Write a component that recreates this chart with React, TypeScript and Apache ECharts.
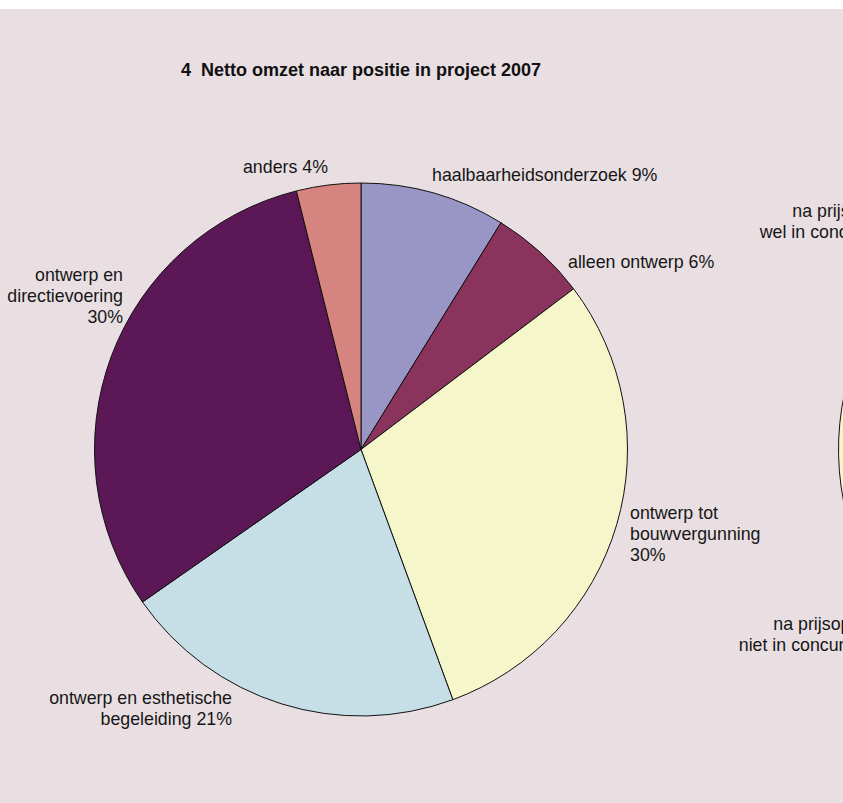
import React, { useEffect, useRef } from 'react';
import * as echarts from 'echarts';

const chartTitle = '4  Netto omzet naar positie in project 2007';

// Main pie: position in project (shares, printed percentages as shown)
const categories = [
  'haalbaarheidsonderzoek',
  'alleen ontwerp',
  'ontwerp tot\nbouwvergunning',
  'ontwerp en esthetische\nbegeleiding',
  'ontwerp en\ndirectievoering',
  'anders',
];
const shares = [8.8, 5.9, 29.7, 20.9, 30.8, 3.9];
const printedPercent = [9, 6, 30, 21, 30, 4];
const percentSeparator = [' ', ' ', '\n', ' ', '\n', ' '];

// Second (cut-off) pie at the right edge
const secondCategories = [
  'direct opdracht',
  'na prijsopgave\nniet in concurrentie',
  'na prijsopgave\nwel in concurrentie',
];
const secondShares = [55, 30, 15];

const sliceColors = ['#9995c4', '#8a335d', '#f6f6cb', '#c6dee5', '#5c1757', '#d6847f'];
const secondColors = ['#9995c4', '#f6f6cb', '#8a335d'];

const labelAnchors: [number, number, string][] = [
  [432, 166, 'left'],
  [568, 253, 'left'],
  [630, 525, 'left'],
  [232, 699, 'right'],
  [123, 287, 'right'],
  [328, 158, 'right'],
];
const secondAnchors: [number, number, string][] = [
  [1300, 100, 'left'],
  [889, 625, 'right'],
  [908, 212.5, 'right'],
];

const FONT = '"Liberation Sans", Arial, Helvetica, sans-serif';

export default function App() {
  const ref = useRef<HTMLDivElement>(null);

  useEffect(() => {
    if (!ref.current) return;
    const chart = echarts.init(ref.current, undefined, { renderer: 'svg' });
    const labelStyle = {
      fontSize: 17.8,
      lineHeight: 21,
      color: '#161616',
      fontFamily: FONT,
    };
    chart.setOption({
      animation: false,
      backgroundColor: '#e9dfe2',
      title: {
        text: chartTitle,
        left: 181,
        top: 50,
        padding: 0,
        textStyle: { fontSize: 18, fontWeight: 'bold', color: '#111', fontFamily: FONT, lineHeight: 21 },
      },
      series: [
        {
          type: 'pie',
          center: [361, 440.5],
          radius: 266.5,
          startAngle: 90,
          clockwise: true,
          avoidLabelOverlap: false,
          itemStyle: { borderColor: '#111', borderWidth: 1 },
          emphasis: { disabled: true },
          label: {
            show: true,
            position: 'outside',
            ...labelStyle,
            formatter: (p: any) =>
              `${categories[p.dataIndex]}${percentSeparator[p.dataIndex]}${printedPercent[p.dataIndex]}%`,
          },
          labelLine: { show: false },
          labelLayout: (p: any) => {
            const a = labelAnchors[p.dataIndex];
            return { x: a[0], y: a[1], align: a[2], verticalAlign: 'middle' };
          },
          data: shares.map((v, i) => ({
            name: categories[i],
            value: v,
            itemStyle: { color: sliceColors[i] },
            label: { align: labelAnchors[i][2] },
          })),
        },
        {
          type: 'pie',
          center: [1105, 440.5],
          radius: 266.5,
          startAngle: 90,
          clockwise: true,
          avoidLabelOverlap: false,
          itemStyle: { borderColor: '#111', borderWidth: 1 },
          emphasis: { disabled: true },
          label: {
            show: true,
            position: 'outside',
            ...labelStyle,
            formatter: (p: any) => secondCategories[p.dataIndex],
          },
          labelLine: { show: false },
          labelLayout: (p: any) => {
            const a = secondAnchors[p.dataIndex];
            return { x: a[0], y: a[1], align: a[2], verticalAlign: 'middle' };
          },
          data: secondShares.map((v, i) => ({
            name: secondCategories[i],
            value: v,
            itemStyle: { color: secondColors[i] },
            label: { show: i > 0, align: secondAnchors[i][2] },
          })),
        },
      ],
    });
    return () => chart.dispose();
  }, []);

  return (
    <div style={{ position: 'fixed', left: 0, top: 0, width: 843, height: 803, background: '#ffffff', overflow: 'hidden' }}>
      <div ref={ref} style={{ position: 'absolute', left: 0, top: 9, width: 843, height: 794 }} />
    </div>
  );
}
